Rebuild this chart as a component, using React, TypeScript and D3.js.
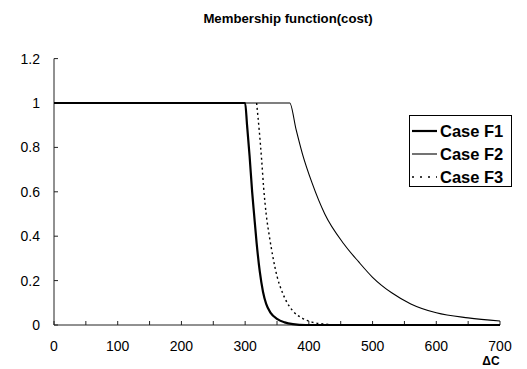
import React, { useEffect, useRef } from "react";
import * as d3 from "d3";

// membership values (ΔC, μ)
const caseF1: [number, number][] = [
  [0, 1], [300, 1], [303, 0.9], [307, 0.76], [311, 0.6], [314, 0.5], [318, 0.37],
  [323, 0.24], [328, 0.15], [333, 0.095], [340, 0.055], [350, 0.028], [362, 0.012],
  [375, 0.004], [395, 0], [700, 0],
];
const caseF2: [number, number][] = [
  [0, 1], [370, 1], [380, 0.88], [390, 0.77], [405, 0.64], [425, 0.5], [455, 0.365],
  [478, 0.285], [500, 0.215], [530, 0.145], [560, 0.095], [600, 0.055], [650, 0.032], [700, 0.018],
];
const caseF3: [number, number][] = [
  [318, 1], [322, 0.88], [326, 0.74], [329, 0.62], [333, 0.5], [338, 0.4], [344, 0.3],
  [350, 0.22], [358, 0.15], [366, 0.1], [376, 0.06], [390, 0.03], [405, 0.013],
  [425, 0.004], [450, 0], [700, 0],
];
const xTicks = [0, 100, 200, 300, 400, 500, 600, 700];
const xMinorTicks = d3.range(0, 701, 50);
const yTicks = [0, 0.2, 0.4, 0.6, 0.8, 1, 1.2];
const seriesNames = ["Case F1", "Case F2", "Case F3"];

export default function App() {
  const ref = useRef<SVGSVGElement>(null);

  useEffect(() => {
    const svg = d3.select(ref.current);
    svg.selectAll("*").remove();

    const x = d3.scaleLinear().domain([0, 700]).range([54, 500]);
    const y = d3.scaleLinear().domain([0, 1]).range([325, 103]);
    const font = "'Liberation Sans', Arial, sans-serif";

    // title
    svg.append("text")
      .attr("x", 288).attr("y", 23)
      .attr("text-anchor", "middle")
      .style("font-family", font).style("font-size", "13.2px").style("font-weight", "bold")
      .text("Membership function(cost)");

    // axes
    const g = svg.append("g").attr("stroke", "#222").attr("stroke-width", 1);
    g.append("line").attr("x1", x(0)).attr("x2", x(0)).attr("y1", y(1.2)).attr("y2", y(0));
    g.append("line").attr("x1", x(0)).attr("x2", x(700)).attr("y1", y(0)).attr("y2", y(0));
    g.selectAll(".yt").data(yTicks).enter().append("line")
      .attr("x1", x(0)).attr("x2", x(0) + 4)
      .attr("y1", (d) => y(d)).attr("y2", (d) => y(d));
    g.selectAll(".xt").data(xMinorTicks).enter().append("line")
      .attr("x1", (d) => x(d)).attr("x2", (d) => x(d))
      .attr("y1", y(0)).attr("y2", y(0) - 4);

    svg.selectAll(".yl").data(yTicks).enter().append("text")
      .attr("x", 40).attr("y", (d) => y(d) + 5)
      .attr("text-anchor", "end")
      .style("font-family", font).style("font-size", "14px")
      .text((d) => String(d));
    svg.selectAll(".xl").data(xTicks).enter().append("text")
      .attr("x", (d) => x(d)).attr("y", 351)
      .attr("text-anchor", "middle")
      .style("font-family", font).style("font-size", "14px")
      .text((d) => String(d));
    svg.append("text")
      .attr("x", 491).attr("y", 365)
      .attr("text-anchor", "middle")
      .style("font-family", font).style("font-size", "12px").style("font-weight", "bold")
      .text("ΔC");

    // lines
    const line = d3.line<[number, number]>()
      .x((d) => x(d[0])).y((d) => y(d[1]))
      .curve(d3.curveMonotoneX);
    const styles = [
      { data: caseF1, w: 2.2, dash: null },
      { data: caseF2, w: 1.1, dash: null },
      { data: caseF3, w: 1.4, dash: "2,3" },
    ];
    styles.forEach((s) => {
      svg.append("path")
        .attr("d", line(s.data))
        .attr("fill", "none").attr("stroke", "#000")
        .attr("stroke-width", s.w)
        .attr("stroke-dasharray", s.dash);
    });

    // legend
    const lg = svg.append("g");
    lg.append("rect")
      .attr("x", 409.5).attr("y", 115.5).attr("width", 102).attr("height", 71)
      .attr("fill", "#fff").attr("stroke", "#000").attr("stroke-width", 1);
    seriesNames.forEach((name, i) => {
      const ly = 131 + i * 23;
      lg.append("line")
        .attr("x1", 412).attr("x2", 437).attr("y1", ly).attr("y2", ly)
        .attr("stroke", "#000").attr("stroke-width", styles[i].w)
        .attr("stroke-dasharray", i === 2 ? "2,6" : null);
      lg.append("text")
        .attr("x", 440).attr("y", ly + 6)
        .style("font-family", font).style("font-size", "16.5px").style("font-weight", "bold")
        .text(name);
    });
  }, []);

  return (
    <svg ref={ref} width={527} height={369}
      style={{ position: "absolute", left: 0, top: 0, background: "#fff" }} />
  );
}
